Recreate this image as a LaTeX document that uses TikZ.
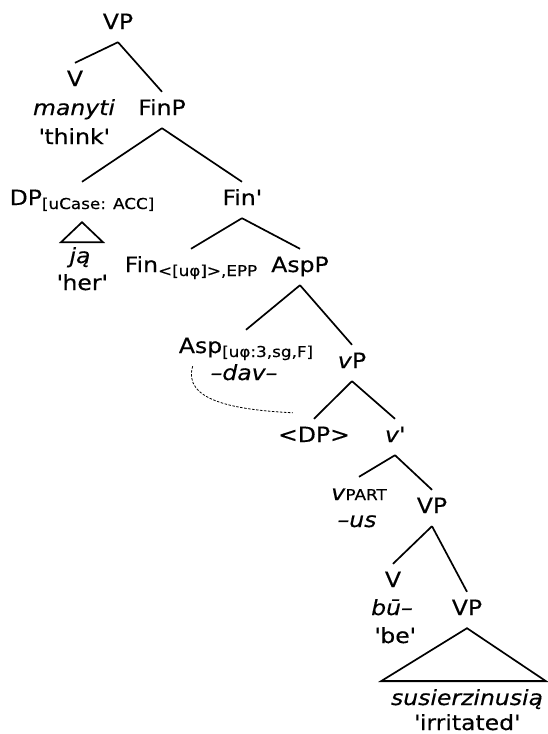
\documentclass[tikz,border=0pt]{standalone}
\usepackage{fontspec}
\setmainfont{DejaVu Sans}[FakeStretch=1.12, FakeBold=0.4]
\newcommand{\sbs}[1]{\raisebox{-4pt}{\fontsize{15}{17}\selectfont #1}}
\newcommand{\smc}[1]{{\fontsize{15}{17}\selectfont #1}}
\newcommand{\qt}[1]{\textquotesingle#1\textquotesingle}
\tikzset{
  cat/.style={anchor=base, inner xsep=0pt, inner ysep=8pt, text height=15pt, text depth=5pt},
  word/.style={anchor=base, inner sep=0pt},
  branch/.style={line width=1.7pt},
  trace/.style={line width=0.8pt, dash pattern=on 2.5pt off 1.5pt},
}

\begin{document}
\begin{tikzpicture}[x=1pt,y=-1pt,font=\fontsize{21}{28}\selectfont]
    \useasboundingbox (0,0) rectangle (548,734);
    % category labels, placed on their baselines
    \node[cat] (vp) at (118,29) {VP};
    \node[cat] (vthink) at (75,86) {V};
    \node[cat] (finp) at (162,115) {FinP};
    \node[cat] (dp) at (82,205) {DP\sbs{[uCase: ACC]}};
    \node[cat] (finbar) at (242,205) {Fin\textquotesingle};
    \node[cat] (fin) at (191,272) {Fin\sbs{<[uφ]>,EPP}};
    \node[cat] (aspp) at (300,272) {AspP};
    \node[cat] (asp) at (246,353) {Asp\sbs{[uφ:3,sg,F]}};
    \node[cat] (vsp) at (352,368) {\textit{v}P};
    \node[cat] (dptrace) at (314,442) {<DP>};
    \node[cat] (vbar) at (395,442) {\textit{v}\textquotesingle};
    \node[cat] (vpart) at (359,500) {\textit{v}\smc{PART}};
    \node[cat] (vpb) at (432,513) {VP};
    \node[cat] (vbe) at (393,587) {V};
    \node[cat] (vpc) at (467,615) {VP};
    % words and glosses
    \node[word] (manyti) at (74,115) {\textit{manyti}};
    \node[word] (think) at (74,144) {\qt{think}};
    \node[word] (ja) at (80,263) {\textit{ją}};
    \node[word] (her) at (82,290) {\qt{her}};
    \node[word] (dav) at (244,380) {\textit{–dav–}};
    \node[word] (us) at (357,527) {\textit{–us}};
    \node[word] (bu) at (392,615) {\textit{bū–}};
    \node[word] (be) at (395,643) {\qt{be}};
    \node[word] (susier) at (467,705) {\textit{susierzinusią}};
    \node[word] (irritated) at (467,730) {\qt{irritated}};
    % branches
    \foreach \a/\b in {vp/vthink, vp/finp, finp/dp, finp/finbar, finbar/fin, finbar/aspp, aspp/asp, aspp/vsp, vsp/dptrace, vsp/vbar, vbar/vpart, vbar/vpb, vpb/vbe, vpb/vpc}
        \draw[branch] (\a.south) -- (\b.north);
    % triangles
    \draw[branch, line join=miter] ([yshift=-4pt]dp.south) -- ++(-21,20) -- ++(42,0) -- cycle;
    \draw[branch, line join=miter] (vpc.south) -- ++(-86,53) -- ++(165,0) -- cycle;
    \draw[line width=2.4pt] ([xshift=-86pt,yshift=-53pt]vpc.south) -- ++(165,0);
    % movement
    \draw[trace] ([xshift=14pt]asp.south west) .. controls +(-10,34) and +(-60,-3) .. ([xshift=15pt,yshift=6pt]dptrace.north west);
\end{tikzpicture}
\end{document}
